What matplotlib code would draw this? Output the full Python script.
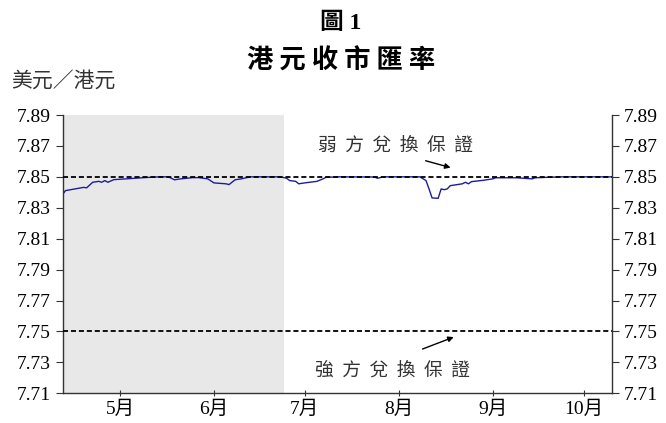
import matplotlib
matplotlib.use('Agg')
import matplotlib.pyplot as plt
import pandas as pd

SERIF = ['Liberation Serif', 'Noto Sans CJK TC']
CJK = ['Noto Sans CJK TC', 'DejaVu Sans']
plt.rcParams['font.family'] = SERIF

# HKD market rate (USD/HKD)
dates = ['2019-04-26', '2019-04-27', '2019-05-03', '2019-05-04', '2019-05-06',
         '2019-05-08', '2019-05-09', '2019-05-10', '2019-05-11', '2019-05-13',
         '2019-05-17', '2019-05-23', '2019-05-28', '2019-05-31', '2019-06-02',
         '2019-06-04', '2019-06-08', '2019-06-10', '2019-06-13', '2019-06-15',
         '2019-06-19', '2019-06-20', '2019-06-22', '2019-06-24', '2019-06-27',
         '2019-07-07', '2019-07-09', '2019-07-10', '2019-07-12', '2019-07-13',
         '2019-07-15', '2019-07-19', '2019-07-21', '2019-07-22', '2019-07-26',
         '2019-08-07', '2019-08-08', '2019-08-10', '2019-08-22', '2019-08-24',
         '2019-08-25', '2019-08-26', '2019-08-28', '2019-08-29', '2019-08-30',
         '2019-08-31', '2019-09-01', '2019-09-05', '2019-09-06', '2019-09-07',
         '2019-09-08', '2019-09-12', '2019-09-15', '2019-09-16', '2019-09-23',
         '2019-09-28', '2019-09-29', '2019-10-03', '2019-10-08', '2019-10-24']
rate = [7.8383, 7.8411, 7.8432, 7.8429, 7.8465,
        7.8471, 7.8465, 7.8476, 7.8465, 7.8482,
        7.8487, 7.8495, 7.8500, 7.8500, 7.8481,
        7.8487, 7.8495, 7.8495, 7.8487, 7.8461,
        7.8455, 7.8450, 7.8481, 7.8487, 7.8500,
        7.8500, 7.8491, 7.8476, 7.8471, 7.8455,
        7.8461, 7.8471, 7.8487, 7.8497, 7.8500,
        7.8499, 7.8491, 7.8500, 7.8500, 7.8476,
        7.8422, 7.8364, 7.8361, 7.8422, 7.8417,
        7.8422, 7.8443, 7.8455, 7.8465, 7.8455,
        7.8469, 7.8478, 7.8487, 7.8494, 7.8494,
        7.8487, 7.8494, 7.8497, 7.8500, 7.8500]

weak_side = 7.85
strong_side = 7.75

month_ticks = ['2019-05-15', '2019-06-15', '2019-07-15', '2019-08-15',
               '2019-09-15', '2019-10-15']
month_labels = ['5月', '6月', '7月', '8月', '9月', '10月']
y_ticks = [7.71, 7.73, 7.75, 7.77, 7.79, 7.81, 7.83, 7.85, 7.87, 7.89]

x = pd.to_datetime(dates)
x_start = pd.Timestamp('2019-04-26 07:00')
x_end = pd.Timestamp('2019-10-24 07:00')
shade_end = pd.Timestamp('2019-07-08 02:00')

fig = plt.figure(figsize=(6.66, 4.23), dpi=100, facecolor='white')
ax = fig.add_axes([0.095, 0.0702, 0.8235, 0.6579])

ax.axvspan(x_start, shade_end, color='#e8e8e8', lw=0, zorder=0)
ax.plot(x, rate, color='#1c1c9c', lw=1.0, zorder=2)
ax.axhline(weak_side, color='black', lw=1.3, linestyle=(0, (2.8, 1.6)), zorder=3)
ax.axhline(strong_side, color='black', lw=1.3, linestyle=(0, (2.8, 1.6)), zorder=3)

ax.set_xlim(x_start, x_end)
ax.set_ylim(7.71, 7.89)
ax.set_yticks(y_ticks)
ax.set_yticklabels(['%.2f' % v for v in y_ticks], family=SERIF, fontsize=14)
ax.set_xticks(pd.to_datetime(month_ticks))
ax.set_xticklabels(month_labels, family=SERIF, fontsize=14)

ax.spines['top'].set_visible(False)
for s in ['left', 'right', 'bottom']:
    ax.spines[s].set_color('#333333')
    ax.spines[s].set_linewidth(1.0)
ax.tick_params(axis='y', direction='out', length=5, width=0.8, color='#333333',
               left=True, right=True, labelleft=True, labelright=True, pad=4)
ax.tick_params(axis='x', direction='inout', length=5, width=0.8, color='#333333', pad=3)

# annotations for the two convertibility undertakings
ax.text(pd.Timestamp('2019-08-14'), 7.8706, '弱  方  兌  換  保  證', family=CJK,
        fontsize=13.5, color='#333333', ha='center', va='center')
ax.annotate('', xy=(pd.Timestamp('2019-09-02'), 7.8555),
            xytext=(pd.Timestamp('2019-08-23'), 7.8609),
            arrowprops=dict(arrowstyle='-|>', lw=1.0, color='black', mutation_scale=8))
ax.text(pd.Timestamp('2019-08-13'), 7.725, '強  方  兌  換  保  證', family=CJK,
        fontsize=13.5, color='#333333', ha='center', va='center')
ax.annotate('', xy=(pd.Timestamp('2019-09-03'), 7.747),
            xytext=(pd.Timestamp('2019-08-22'), 7.738),
            arrowprops=dict(arrowstyle='-|>', lw=1.0, color='black', mutation_scale=8))

fig.text(0.512, 0.945, '圖 1', family=SERIF, fontsize=17, fontweight='bold',
         ha='center', va='center')
fig.text(0.512, 0.856, '港 元 收 市 匯 率', family=CJK, fontsize=19, fontweight='bold',
         ha='center', va='center')
fig.text(0.017, 0.81, '美元／港元', family=CJK, fontsize=15, color='#333333',
         ha='left', va='center')

fig.savefig('out.png', dpi=100, facecolor='white')
